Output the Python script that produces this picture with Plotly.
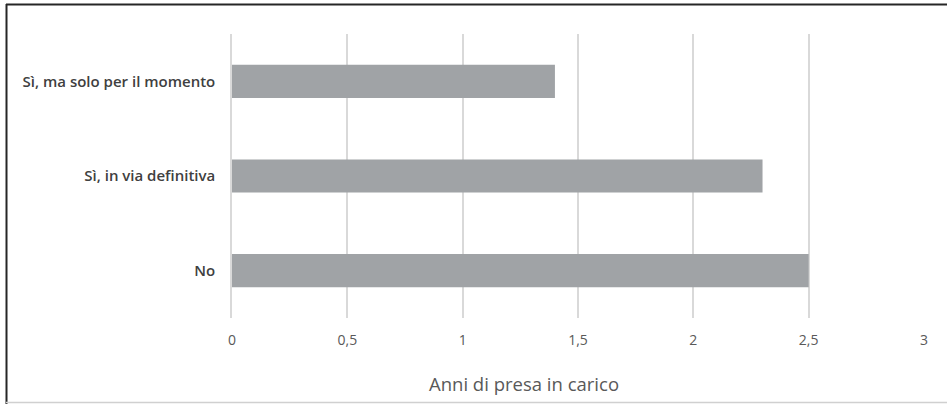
import plotly.graph_objects as go

# Risposte e anni medi di presa in carico
categories = ["No", "Sì, in via definitiva", "Sì, ma solo per il momento"]
years = [2.5, 2.3, 1.4]
x_ticks = [0, 0.5, 1, 1.5, 2, 2.5, 3]
x_tick_labels = ["0", "0,5", "1", "1,5", "2", "2,5", "3"]
x_title = "Anni di presa in carico"

W, H = 947, 404
L, R, T, B = 232, 924, 34, 318  # plot area in pixels

fig = go.Figure(
    go.Bar(
        y=categories,
        x=years,
        orientation="h",
        width=0.35,
        marker=dict(color="#a0a3a6", line=dict(width=0)),
        hoverinfo="x+y",
    )
)

def px_x(p):
    return (p - L) / (R - L)

def px_y(p):
    return (B - p) / (B - T)

fig.update_layout(
    width=W,
    height=H,
    margin=dict(l=L, r=W - R, t=T, b=H - B),
    paper_bgcolor="white",
    plot_bgcolor="white",
    showlegend=False,
    font=dict(family="Open Sans, sans-serif", color="#595959"),
    xaxis=dict(
        range=[0, 3],
        tickvals=x_ticks,
        ticktext=x_tick_labels,
        showgrid=True,
        gridcolor="#d9d9d9",
        gridwidth=1.5,
        zeroline=False,
        showline=False,
        ticks="",
        ticklabelstandoff=12,
        tickfont=dict(size=14, color="#595959"),
        fixedrange=True,
    ),
    yaxis=dict(
        range=[-0.5, 2.5],
        showgrid=False,
        zeroline=False,
        showline=True,
        linecolor="#d9d9d9",
        linewidth=1.5,
        ticks="",
        ticklabelstandoff=12,
        tickfont=dict(size=15, color="#404040", family="Open Sans, sans-serif", weight=600),
        fixedrange=True,
    ),
    annotations=[
        dict(
            text=x_title,
            xref="paper", yref="paper",
            x=px_x(524), y=px_y(383),
            xanchor="center", yanchor="middle",
            showarrow=False,
            font=dict(size=18.5, color="#595959"),
        )
    ],
    shapes=[
        # frame: dark top and left edges, light bottom edge
        dict(type="line", xref="paper", yref="paper",
             x0=px_x(6), x1=px_x(W + 2), y0=px_y(4.5), y1=px_y(4.5),
             line=dict(color="#262626", width=2)),
        dict(type="line", xref="paper", yref="paper",
             x0=px_x(6.5), x1=px_x(6.5), y0=px_y(4), y1=px_y(H + 2),
             line=dict(color="#262626", width=2)),
        dict(type="line", xref="paper", yref="paper",
             x0=px_x(6), x1=px_x(W + 2), y0=px_y(402.5), y1=px_y(402.5),
             line=dict(color="#d0d0d0", width=1.5)),
    ],
)

fig.write_html("out.html")
